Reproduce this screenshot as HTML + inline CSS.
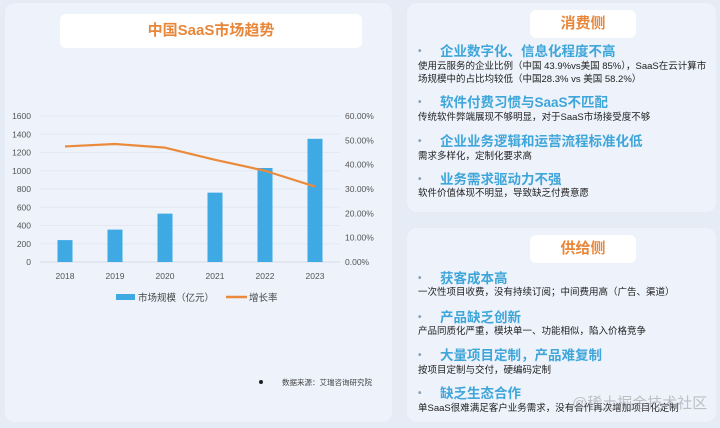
<!DOCTYPE html>
<html><head><meta charset="utf-8">
<style>
*{margin:0;padding:0;box-sizing:border-box}
body{width:720px;height:428px;background:#e6ecf5;font-family:"Liberation Sans","Noto Sans CJK SC",sans-serif;position:relative;overflow:hidden}
.panel{position:absolute;background:#edf2fb;border-radius:10px}
.tbox{position:absolute;background:#fff;border-radius:6px;color:#e8873a;font-weight:bold;text-align:center}
.h{position:absolute;left:418px;font-size:13.5px;line-height:14px;height:14px;font-weight:bold;color:#3fa6d9;white-space:nowrap}
.h .dot{display:inline-block;width:22px;color:#8aa0b5;font-size:10px;vertical-align:top;line-height:14px}
.b{position:absolute;left:418px;font-size:9.5px;color:#222;line-height:12.5px;white-space:nowrap}
</style></head><body>
<div class="panel" style="left:5px;top:3px;width:387px;height:419px"></div>
<div class="tbox" style="left:60px;top:14px;width:302px;height:34px;line-height:34px;font-size:15px">中国SaaS市场趋势</div>
<svg id="chart" width="400" height="428" style="position:absolute;left:0;top:0"></svg>
<div class="panel" style="left:407px;top:3px;width:309px;height:209px"></div>
<div class="tbox" style="left:530px;top:10px;width:106px;height:28px;line-height:28px;font-size:15px">消费侧</div>
<div class="h" style="top:45px"><span class="dot">•</span>企业数字化、信息化程度不高</div>
<div class="b" style="top:61px">使用云服务的企业比例（中国 43.9%vs美国 85%），SaaS在云计算市<br>场规模中的占比均较低（中国28.3% vs 美国 58.2%）</div>
<div class="h" style="top:96px"><span class="dot">•</span>软件付费习惯与SaaS不匹配</div>
<div class="b" style="top:112px">传统软件弊端展现不够明显，对于SaaS市场接受度不够</div>
<div class="h" style="top:135px"><span class="dot">•</span>企业业务逻辑和运营流程标准化低</div>
<div class="b" style="top:151px">需求多样化，定制化要求高</div>
<div class="h" style="top:173px"><span class="dot">•</span>业务需求驱动力不强</div>
<div class="b" style="top:188px">软件价值体现不明显，导致缺乏付费意愿</div>
<div class="panel" style="left:407px;top:228px;width:309px;height:194px"></div>
<div class="tbox" style="left:530px;top:235px;width:106px;height:28px;line-height:28px;font-size:15px">供给侧</div>
<div class="h" style="top:272px"><span class="dot">•</span>获客成本高</div>
<div class="b" style="top:287px">一次性项目收费，没有持续订阅；中间费用高（广告、渠道）</div>
<div class="h" style="top:311px"><span class="dot">•</span>产品缺乏创新</div>
<div class="b" style="top:326px">产品同质化严重，模块单一、功能相似，陷入价格竞争</div>
<div class="h" style="top:349px"><span class="dot">•</span>大量项目定制，产品难复制</div>
<div class="b" style="top:365px">按项目定制与交付，硬编码定制</div>
<div class="h" style="top:387px"><span class="dot">•</span>缺乏生态合作</div>
<div class="b" style="top:403px">单SaaS很难满足客户业务需求，没有合作再次增加项目化定制</div>
<div style="position:absolute;left:572px;top:392px;font-size:15px;color:rgba(150,150,150,0.55)">@稀土掘金技术社区</div>
<script>
const years=["2018","2019","2020","2021","2022","2023"];
const marketSize=[240,355,530,760,1030,1350];
const growthRate=[47.5,48.5,47,42,37.5,31];
const leftTicks=[0,200,400,600,800,1000,1200,1400,1600];
const rightTicks=[0,10,20,30,40,50,60];
const svg=document.getElementById('chart');
const NS='http://www.w3.org/2000/svg';
const x0=40,x1=340,yTop=116,yBot=262;
const band=(x1-x0)/years.length;
const xs=i=>x0+band*(i+0.5);
const yL=v=>yBot-(v/1600)*(yBot-yTop);
const yR=v=>yBot-(v/60)*(yBot-yTop);
function mk(t,a,txt){const e=document.createElementNS(NS,t);for(const k in a)e.setAttribute(k,a[k]);if(txt!=null)e.textContent=txt;svg.appendChild(e);return e;}
leftTicks.forEach(v=>{
 const g=mk('line',{x1:x0,x2:x1,y1:yL(v),y2:yL(v),stroke:v===0?'#d5dbe4':'#e4e9f1','stroke-width':1});
 
 
 const t=mk('text',{x:31,y:yL(v)+3,'text-anchor':'end','font-size':8.5,fill:'#555'},String(v));
 
 
});
rightTicks.forEach(v=>{
 const t=mk('text',{x:345,y:yR(v)+3,'font-size':8.5,fill:'#555'},v.toFixed(2)+'%');
 
 
});
years.forEach((y,i)=>{
 const r=mk('rect',{x:xs(i)-7.5,y:yL(marketSize[i]),width:15,height:yBot-yL(marketSize[i]),fill:'#3fa9e3'});
 
 
 const t=mk('text',{x:xs(i),y:279,'text-anchor':'middle','font-size':8.5,fill:'#555'},y);
 
 
});
let d='';
growthRate.forEach((v,i)=>{d+=(i?'L':'M')+xs(i)+' '+yR(v);});
const p=mk('path',{d:d,fill:'none',stroke:'#ec8a3c','stroke-width':2.2,'stroke-linejoin':'round'});


const lb=mk('rect',{x:116,y:294,width:19,height:6,fill:'#3fa9e3'});


const lt=mk('text',{x:138,y:301,'font-size':9.5,fill:'#444'},'市场规模（亿元）');


const ll=mk('line',{x1:226,x2:247,y1:297,y2:297,stroke:'#ec8a3c','stroke-width':2.5});


const lt2=mk('text',{x:249,y:301,'font-size':9.5,fill:'#444'},'增长率');


const dot=mk('circle',{cx:261,cy:382,r:2,fill:'#222'});


const src=mk('text',{x:282,y:385,'font-size':7.5,fill:'#444'},'数据来源：艾瑞咨询研究院');


</script>
</body></html>
